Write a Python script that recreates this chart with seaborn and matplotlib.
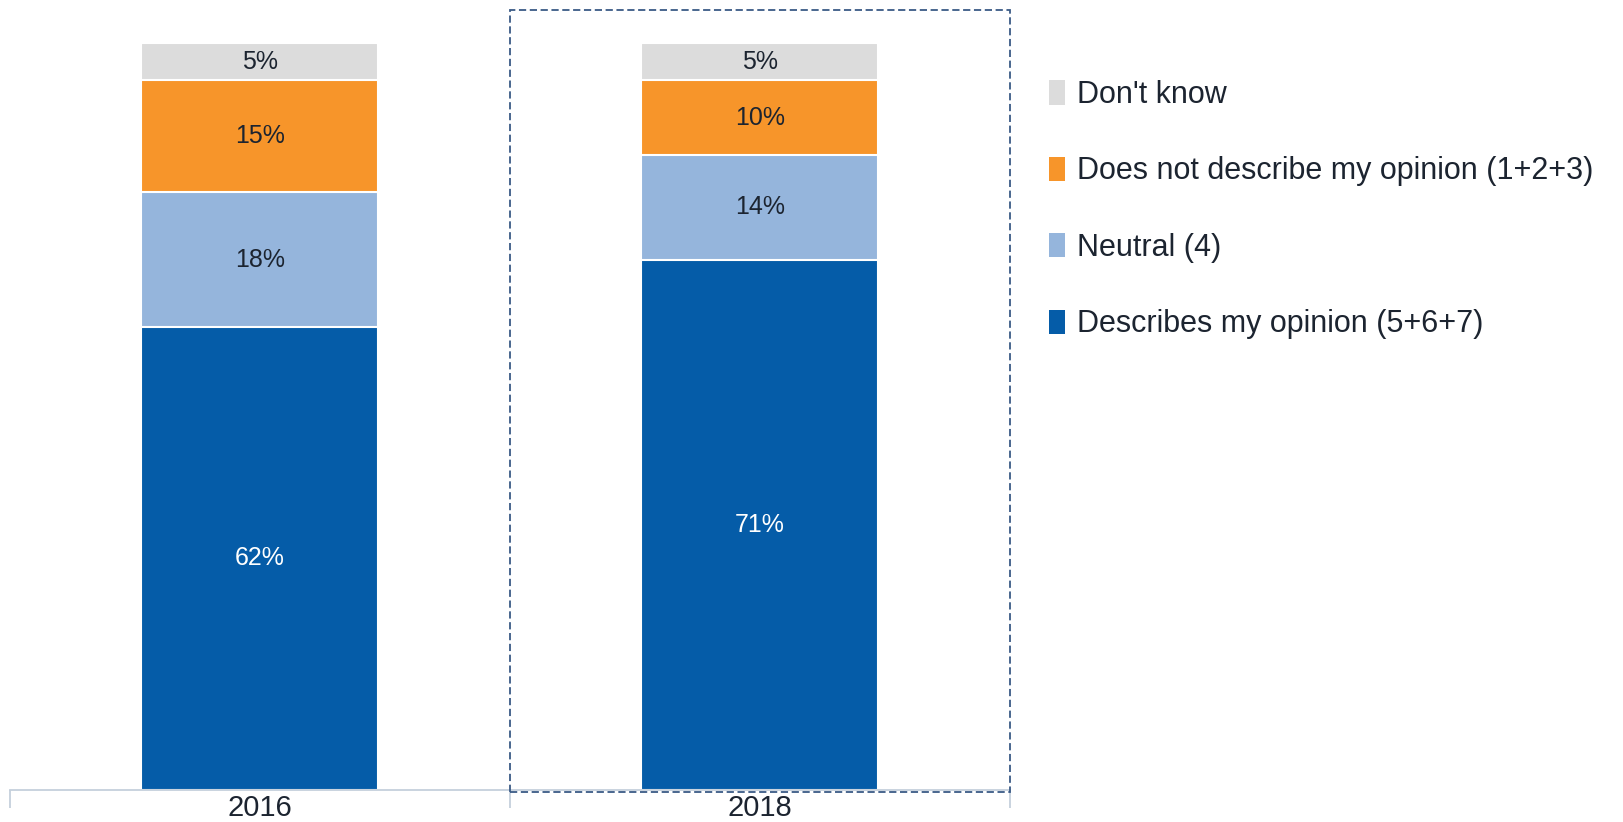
import numpy as np
import pandas as pd
import matplotlib
matplotlib.use("Agg")
import matplotlib.pyplot as plt
from matplotlib.patches import Patch, Rectangle
import seaborn as sns

# Survey results, share of respondents (%)
years = ["2016", "2018"]
describes = [62, 71]
neutral = [18, 14]
does_not = [15, 10]
dont_know = [5, 5]

series_names = [
    "Describes my opinion (5+6+7)",
    "Neutral (4)",
    "Does not describe my opinion (1+2+3)",
    "Don't know",
]
series_colors = ["#055ca8", "#95b5dc", "#f7952a", "#dcdcdc"]
label_colors = ["white", "#1c2430", "#1c2430", "#1c2430"]

sns.set_theme(style="white")
plt.rcParams["font.family"] = ["Liberation Sans", "DejaVu Sans"]

W, H, DPI = 1624, 822, 100
fig = plt.figure(figsize=(W / DPI, H / DPI), dpi=DPI)
ax = fig.add_axes([10 / W, 32 / H, 1000 / W, 747 / H])

values = np.array([describes, neutral, does_not, dont_know], dtype=float)
tops = np.cumsum(values, axis=0)
bottoms = tops - values

# Stacked bars: draw the cumulative totals from the top layer down
for i in range(len(series_names) - 1, -1, -1):
    df = pd.DataFrame({"year": years, "total": tops[i]})
    sns.barplot(data=df, x="year", y="total", color=series_colors[i],
                saturation=1, width=0.474, edgecolor="white", linewidth=1.5,
                ax=ax)

for i in range(len(series_names)):
    for j, yr in enumerate(years):
        ax.text(j, bottoms[i, j] + values[i, j] / 2, f"{int(values[i, j])}%",
                ha="center", va="center", fontsize=18, color=label_colors[i])

ax.set_xlim(-0.5, 1.5)
ax.set_ylim(0, 100)
ax.set_xlabel("")
ax.set_ylabel("")
ax.set_yticks([])
for s in ["left", "right", "top"]:
    ax.spines[s].set_visible(False)
ax.spines["bottom"].set_color("#c5d0dc")
ax.spines["bottom"].set_linewidth(1.3)

ax.set_xticks([0, 1])
ax.set_xticklabels(years, fontsize=21, color="#1c2430")
ax.tick_params(axis="x", which="major", length=0, pad=3)
ax.set_xticks([-0.5, 0.5, 1.5], minor=True)
ax.tick_params(axis="x", which="minor", bottom=True, length=13, width=1.3,
               color="#c5d0dc", direction="out")

# Dashed highlight around the latest year
ax.add_patch(Rectangle((0.5, -0.3), 1.0, 104.7, fill=False,
                       edgecolor="#3a5a86", linestyle=(0, (4, 2)),
                       linewidth=1.3, clip_on=False, zorder=5))

handles = [Patch(facecolor=series_colors[i], edgecolor="none")
           for i in range(len(series_names) - 1, -1, -1)]
labels = [series_names[i] for i in range(len(series_names) - 1, -1, -1)]
fig.legend(handles, labels, loc="upper left",
           bbox_to_anchor=(1049 / W, 1 - 80 / H), frameon=False,
           fontsize=22, handlelength=0.52, handleheight=0.85,
           handletextpad=0.4, labelspacing=1.52, borderpad=0,
           borderaxespad=0, labelcolor="#1c2430")

fig.savefig("out.png", dpi=DPI)
